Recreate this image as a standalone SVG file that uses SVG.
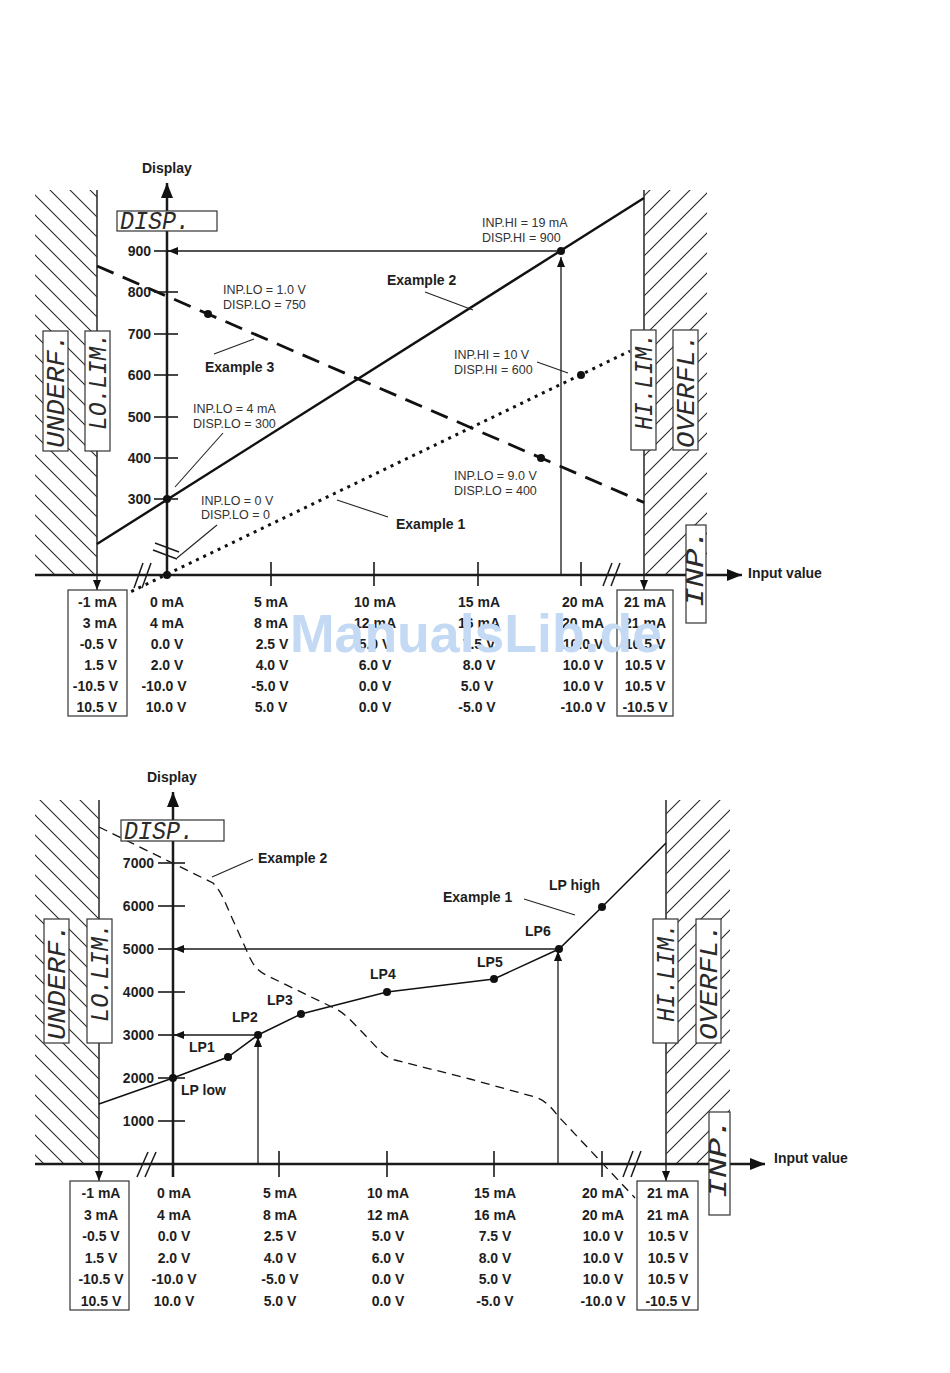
<svg xmlns="http://www.w3.org/2000/svg" width="950" height="1373" viewBox="0 0 950 1373">
<style>
.ax{stroke:#1a1a1a;stroke-width:2.5;fill:none}
.wall{stroke:#333;stroke-width:1.6;fill:none}
.thin{stroke:#1a1a1a;stroke-width:1.3;fill:none}
.lead{stroke:#222;stroke-width:1.1;fill:none}
.box{fill:#fff;stroke:#333;stroke-width:1.2}
.lb{font-family:"Liberation Sans",Arial,sans-serif;font-weight:bold;font-size:14px;fill:#1e1e1e}
.tb{font-family:"Liberation Sans",Arial,sans-serif;font-weight:bold;font-size:14px;fill:#1e1e1e;text-anchor:middle}
.yl{font-family:"Liberation Sans",Arial,sans-serif;font-weight:bold;font-size:14px;fill:#1e1e1e;text-anchor:end}
.an{font-family:"Liberation Sans",Arial,sans-serif;font-size:12.5px;fill:#333}
.seg{font-family:"Liberation Mono","DejaVu Sans Mono",monospace;font-style:italic;font-size:26px;fill:#2a2a2a}
.dot{fill:#111}
</style>
<defs>
<pattern id="hb" patternUnits="userSpaceOnUse" width="20" height="20"><path d="M-5,-5 L25,25 M-5,15 L5,25 M15,-5 L25,5" stroke="#2a2a2a" stroke-width="1.1"/></pattern>
<pattern id="hf" patternUnits="userSpaceOnUse" width="20" height="20"><path d="M-5,25 L25,-5 M-5,5 L5,-5 M15,25 L25,15" stroke="#2a2a2a" stroke-width="1.1"/></pattern>
<marker id="big" markerUnits="userSpaceOnUse" markerWidth="16" markerHeight="12" refX="15" refY="6" orient="auto"><path d="M0,0 L15,6 L0,12 z" fill="#111"/></marker>
<marker id="sm" markerUnits="userSpaceOnUse" markerWidth="11" markerHeight="8" refX="10" refY="4" orient="auto"><path d="M0,0 L10,4 L0,8 z" fill="#111"/></marker>
</defs>
<rect width="950" height="1373" fill="#fff"/>

<!-- ================= TOP CHART ================= -->
<g id="top-walls">
<rect x="35" y="190" width="62" height="385" fill="url(#hb)"/>
<rect x="644" y="190" width="63" height="385" fill="url(#hf)"/>
<line class="wall" x1="97" y1="190" x2="97" y2="575"/>
<line class="wall" x1="644" y1="190" x2="644" y2="575"/>
</g>

<g id="top-connectors">
<line x1="97" y1="544" x2="644" y2="198" stroke="#111" stroke-width="2.4"/>
<line x1="97" y1="266" x2="644" y2="502.5" stroke="#111" stroke-width="2.8" stroke-dasharray="18 10"/>
<line x1="124" y1="595" x2="630" y2="351" stroke="#111" stroke-width="3" stroke-dasharray="3 5"/>
<line class="thin" x1="561" y1="575" x2="561" y2="257" marker-end="url(#sm)"/>
<line class="thin" x1="561" y1="251" x2="168" y2="251" marker-end="url(#sm)"/>
<line class="lead" x1="425" y1="292" x2="473" y2="310"/>
<line class="lead" x1="214" y1="354" x2="254" y2="339"/>
<line class="lead" x1="537" y1="362" x2="568" y2="373"/>
<line class="lead" x1="223" y1="433" x2="175" y2="487"/>
<line class="lead" x1="217" y1="525" x2="177" y2="558"/>
<line class="lead" x1="337" y1="500" x2="388" y2="517"/>
<line class="thin" x1="97" y1="575" x2="97" y2="590" marker-end="url(#sm)"/>
<line class="thin" x1="644" y1="575" x2="644" y2="590" marker-end="url(#sm)"/>
</g>

<g id="top-axes">
<line class="ax" x1="35" y1="575" x2="742" y2="575" marker-end="url(#big)"/>
<line class="ax" x1="167" y1="575" x2="167" y2="183" marker-end="url(#big)"/>
<g stroke="#1a1a1a" stroke-width="1.6">
<line x1="154" y1="251" x2="178" y2="251"/>
<line x1="154" y1="292" x2="178" y2="292"/>
<line x1="154" y1="334" x2="178" y2="334"/>
<line x1="154" y1="375" x2="178" y2="375"/>
<line x1="154" y1="417" x2="178" y2="417"/>
<line x1="154" y1="458" x2="178" y2="458"/>
<line x1="154" y1="499" x2="178" y2="499"/>
<line x1="271" y1="562" x2="271" y2="586"/>
<line x1="374" y1="562" x2="374" y2="586"/>
<line x1="478" y1="562" x2="478" y2="586"/>
<line x1="581" y1="562" x2="581" y2="586"/>
</g>
<g stroke="#1a1a1a" stroke-width="1.5">
<line x1="134" y1="588" x2="143" y2="563"/>
<line x1="142" y1="588" x2="151" y2="563"/>
<line x1="603" y1="586" x2="612" y2="563"/>
<line x1="611" y1="586" x2="620" y2="563"/>
<line x1="155" y1="543" x2="179" y2="552"/>
<line x1="153" y1="550" x2="177" y2="559"/>
</g>
<text class="yl" x="151" y="256">900</text>
<text class="yl" x="151" y="297">800</text>
<text class="yl" x="151" y="339">700</text>
<text class="yl" x="151" y="380">600</text>
<text class="yl" x="151" y="422">500</text>
<text class="yl" x="151" y="463">400</text>
<text class="yl" x="151" y="504">300</text>
<text class="lb" x="142" y="173">Display</text>
<text class="lb" x="748" y="578">Input value</text>
</g>

<g id="top-dots">
<circle class="dot" cx="561" cy="251" r="4"/>
<circle class="dot" cx="208" cy="314" r="4"/>
<circle class="dot" cx="581" cy="375" r="4"/>
<circle class="dot" cx="541" cy="458" r="4"/>
<circle class="dot" cx="167" cy="499" r="4"/>
<circle class="dot" cx="167" cy="575" r="4"/>
</g>

<g id="top-disp"><rect class="box" x="117" y="211" width="100" height="20"/><text class="seg" x="120" y="229" font-size="24" textLength="70" lengthAdjust="spacingAndGlyphs">DISP.</text></g>
<g id="top-underf"><rect class="box" x="43" y="331" width="25" height="120"/><text class="seg" transform="translate(64,448) rotate(-90)" textLength="114" lengthAdjust="spacingAndGlyphs">UNDERF.</text></g>
<g id="top-lolim"><rect class="box" x="85" y="331" width="25" height="120"/><text class="seg" transform="translate(106,430) rotate(-90)" textLength="97" lengthAdjust="spacingAndGlyphs">LO.LIM.</text></g>
<g id="top-hilim"><rect class="box" x="631" y="330" width="25" height="120"/><text class="seg" transform="translate(652,430) rotate(-90)" textLength="97" lengthAdjust="spacingAndGlyphs">HI.LIM.</text></g>
<g id="top-overfl"><rect class="box" x="673" y="330" width="25" height="120"/><text class="seg" transform="translate(694,448) rotate(-90)" textLength="114" lengthAdjust="spacingAndGlyphs">OVERFL.</text></g>
<g id="top-inp"><rect class="box" x="686" y="525" width="20" height="98"/><text class="seg" font-size="22" transform="translate(703,607) rotate(-90)" textLength="78" lengthAdjust="spacingAndGlyphs">INP.</text></g>

<g id="top-labels">
<text class="an" x="482" y="227">INP.HI = 19 mA</text>
<text class="an" x="482" y="242">DISP.HI = 900</text>
<text class="lb" x="387" y="285">Example 2</text>
<text class="an" x="223" y="294">INP.LO = 1.0 V</text>
<text class="an" x="223" y="309">DISP.LO = 750</text>
<text class="lb" x="205" y="372">Example 3</text>
<text class="an" x="454" y="359">INP.HI = 10 V</text>
<text class="an" x="454" y="374">DISP.HI = 600</text>
<text class="an" x="193" y="413">INP.LO = 4 mA</text>
<text class="an" x="193" y="428">DISP.LO = 300</text>
<text class="an" x="454" y="480">INP.LO = 9.0 V</text>
<text class="an" x="454" y="495">DISP.LO = 400</text>
<text class="an" x="201" y="505">INP.LO = 0 V</text>
<text class="an" x="201" y="519">DISP.LO = 0</text>
<text class="lb" x="396" y="529">Example 1</text>
</g>

<g id="top-table">
<rect class="box" x="68" y="590" width="59" height="126" fill="none"/>
<rect class="box" x="617" y="590" width="56" height="126" fill="none"/>
<g class="yl">
<text x="117" y="607">-1 mA</text><text x="117" y="628">3 mA</text><text x="117" y="649">-0.5 V</text><text x="117" y="670">1.5 V</text><text x="118" y="691">-10.5 V</text><text x="117" y="712">10.5 V</text>
</g>
<g class="tb">
<text x="167" y="607">0 mA</text><text x="167" y="628">4 mA</text><text x="167" y="649">0.0 V</text><text x="167" y="670">2.0 V</text><text x="164" y="691">-10.0 V</text><text x="166" y="712">10.0 V</text>
<text x="271" y="607">5 mA</text><text x="271" y="628">8 mA</text><text x="272" y="649">2.5 V</text><text x="272" y="670">4.0 V</text><text x="270" y="691">-5.0 V</text><text x="271" y="712">5.0 V</text>
<text x="375" y="607">10 mA</text><text x="375" y="628">12 mA</text><text x="375" y="649">5.0 V</text><text x="375" y="670">6.0 V</text><text x="375" y="691">0.0 V</text><text x="375" y="712">0.0 V</text>
<text x="479" y="607">15 mA</text><text x="479" y="628">16 mA</text><text x="479" y="649">7.5 V</text><text x="479" y="670">8.0 V</text><text x="477" y="691">5.0 V</text><text x="477" y="712">-5.0 V</text>
<text x="583" y="607">20 mA</text><text x="583" y="628">20 mA</text><text x="583" y="649">10.0 V</text><text x="583" y="670">10.0 V</text><text x="583" y="691">10.0 V</text><text x="583" y="712">-10.0 V</text>
<text x="645" y="607">21 mA</text><text x="645" y="628">21 mA</text><text x="645" y="649">10.5 V</text><text x="645" y="670">10.5 V</text><text x="645" y="691">10.5 V</text><text x="645" y="712">-10.5 V</text>
</g>
</g>

<!-- ================= BOTTOM CHART ================= -->
<g id="bot-walls">
<rect x="35" y="800" width="64" height="364" fill="url(#hb)"/>
<rect x="666" y="800" width="64" height="364" fill="url(#hf)"/>
<line class="wall" x1="99" y1="800" x2="99" y2="1164"/>
<line class="wall" x1="666" y1="800" x2="666" y2="1164"/>
</g>

<g id="bot-connectors">
<polyline points="99,1104 173,1078 228,1057 258,1035 301,1014 387,992 494,979 559,949 602,907 666,843" fill="none" stroke="#111" stroke-width="1.5"/>
<path d="M99,827 L213,883 C222,892 226,905 232,918 L250,958 C254,966 258,971 266,975 L338,1010 C348,1016 356,1026 364,1034 L380,1051 C384,1055 388,1058 395,1060 L470,1079 L535,1097 C545,1100 552,1108 558,1116 L635,1198" fill="none" stroke="#111" stroke-width="1.3" stroke-dasharray="9 6"/>
<line class="thin" x1="258" y1="1164" x2="258" y2="1037" marker-end="url(#sm)"/>
<line class="thin" x1="258" y1="1035" x2="174" y2="1035" marker-end="url(#sm)"/>
<line class="thin" x1="558" y1="1164" x2="558" y2="951" marker-end="url(#sm)"/>
<line class="thin" x1="558" y1="949" x2="174" y2="949" marker-end="url(#sm)"/>
<line class="lead" x1="524" y1="899" x2="575" y2="915"/>
<line class="lead" x1="212" y1="877" x2="253" y2="859"/>
<line class="thin" x1="99" y1="1164" x2="99" y2="1181" marker-end="url(#sm)"/>
<line class="thin" x1="666" y1="1164" x2="666" y2="1181" marker-end="url(#sm)"/>
</g>

<g id="bot-axes">
<line class="ax" x1="35" y1="1164" x2="765" y2="1164" marker-end="url(#big)"/>
<line class="ax" x1="173" y1="1177" x2="173" y2="792" marker-end="url(#big)"/>
<g stroke="#1a1a1a" stroke-width="1.6">
<line x1="158" y1="863" x2="185" y2="863"/>
<line x1="158" y1="906" x2="185" y2="906"/>
<line x1="158" y1="949" x2="185" y2="949"/>
<line x1="158" y1="992" x2="185" y2="992"/>
<line x1="158" y1="1035" x2="185" y2="1035"/>
<line x1="158" y1="1078" x2="185" y2="1078"/>
<line x1="158" y1="1121" x2="185" y2="1121"/>
<line x1="279" y1="1151" x2="279" y2="1177"/>
<line x1="387" y1="1151" x2="387" y2="1177"/>
<line x1="494" y1="1151" x2="494" y2="1177"/>
<line x1="602" y1="1151" x2="602" y2="1177"/>
</g>
<g stroke="#1a1a1a" stroke-width="1.5">
<line x1="137" y1="1177" x2="148" y2="1152"/>
<line x1="145" y1="1177" x2="156" y2="1152"/>
<line x1="623" y1="1177" x2="633" y2="1151"/>
<line x1="631" y1="1177" x2="641" y2="1151"/>
</g>
<text class="yl" x="154" y="868">7000</text>
<text class="yl" x="154" y="911">6000</text>
<text class="yl" x="154" y="954">5000</text>
<text class="yl" x="154" y="997">4000</text>
<text class="yl" x="154" y="1040">3000</text>
<text class="yl" x="154" y="1083">2000</text>
<text class="yl" x="154" y="1126">1000</text>
<text class="lb" x="147" y="782">Display</text>
<text class="lb" x="774" y="1163">Input value</text>
</g>

<g id="bot-dots">
<circle class="dot" cx="173" cy="1078" r="4"/>
<circle class="dot" cx="228" cy="1057" r="4"/>
<circle class="dot" cx="258" cy="1035" r="4"/>
<circle class="dot" cx="301" cy="1014" r="4"/>
<circle class="dot" cx="387" cy="992" r="4"/>
<circle class="dot" cx="494" cy="979" r="4"/>
<circle class="dot" cx="559" cy="949" r="4"/>
<circle class="dot" cx="602" cy="907" r="4"/>
</g>

<g id="bot-disp"><rect class="box" x="121" y="820" width="103" height="21"/><text class="seg" x="124" y="839" font-size="24" textLength="70" lengthAdjust="spacingAndGlyphs">DISP.</text></g>
<g id="bot-underf"><rect class="box" x="44" y="919" width="25" height="124"/><text class="seg" transform="translate(65,1040) rotate(-90)" textLength="116" lengthAdjust="spacingAndGlyphs">UNDERF.</text></g>
<g id="bot-lolim"><rect class="box" x="87" y="919" width="25" height="124"/><text class="seg" transform="translate(108,1022) rotate(-90)" textLength="99" lengthAdjust="spacingAndGlyphs">LO.LIM.</text></g>
<g id="bot-hilim"><rect class="box" x="653" y="919" width="25" height="124"/><text class="seg" transform="translate(674,1022) rotate(-90)" textLength="99" lengthAdjust="spacingAndGlyphs">HI.LIM.</text></g>
<g id="bot-overfl"><rect class="box" x="696" y="919" width="25" height="124"/><text class="seg" transform="translate(717,1040) rotate(-90)" textLength="116" lengthAdjust="spacingAndGlyphs">OVERFL.</text></g>
<g id="bot-inp"><rect class="box" x="709" y="1112" width="21" height="103"/><text class="seg" font-size="22" transform="translate(726,1198) rotate(-90)" textLength="80" lengthAdjust="spacingAndGlyphs">INP.</text></g>

<g id="bot-labels">
<text class="lb" x="258" y="863">Example 2</text>
<text class="lb" x="443" y="902">Example 1</text>
<text class="lb" x="549" y="890">LP high</text>
<text class="lb" x="525" y="936">LP6</text>
<text class="lb" x="477" y="967">LP5</text>
<text class="lb" x="370" y="979">LP4</text>
<text class="lb" x="267" y="1005">LP3</text>
<text class="lb" x="232" y="1022">LP2</text>
<text class="lb" x="189" y="1052">LP1</text>
<text class="lb" x="181" y="1095">LP low</text>
</g>

<g id="bot-table">
<rect class="box" x="70" y="1181" width="59" height="129" fill="none"/>
<rect class="box" x="637" y="1181" width="61" height="129" fill="none"/>
<g class="tb">
<text x="101" y="1198">-1 mA</text><text x="101" y="1220">3 mA</text><text x="101" y="1241">-0.5 V</text><text x="101" y="1263">1.5 V</text><text x="101" y="1284">-10.5 V</text><text x="101" y="1306">10.5 V</text>
<text x="174" y="1198">0 mA</text><text x="174" y="1220">4 mA</text><text x="174" y="1241">0.0 V</text><text x="174" y="1263">2.0 V</text><text x="174" y="1284">-10.0 V</text><text x="174" y="1306">10.0 V</text>
<text x="280" y="1198">5 mA</text><text x="280" y="1220">8 mA</text><text x="280" y="1241">2.5 V</text><text x="280" y="1263">4.0 V</text><text x="280" y="1284">-5.0 V</text><text x="280" y="1306">5.0 V</text>
<text x="388" y="1198">10 mA</text><text x="388" y="1220">12 mA</text><text x="388" y="1241">5.0 V</text><text x="388" y="1263">6.0 V</text><text x="388" y="1284">0.0 V</text><text x="388" y="1306">0.0 V</text>
<text x="495" y="1198">15 mA</text><text x="495" y="1220">16 mA</text><text x="495" y="1241">7.5 V</text><text x="495" y="1263">8.0 V</text><text x="495" y="1284">5.0 V</text><text x="495" y="1306">-5.0 V</text>
<text x="603" y="1198">20 mA</text><text x="603" y="1220">20 mA</text><text x="603" y="1241">10.0 V</text><text x="603" y="1263">10.0 V</text><text x="603" y="1284">10.0 V</text><text x="603" y="1306">-10.0 V</text>
<text x="668" y="1198">21 mA</text><text x="668" y="1220">21 mA</text><text x="668" y="1241">10.5 V</text><text x="668" y="1263">10.5 V</text><text x="668" y="1284">10.5 V</text><text x="668" y="1306">-10.5 V</text>
</g>
</g>

<g id="watermark">
<text x="290" y="652" font-family="'Liberation Sans',Arial,sans-serif" font-weight="bold" font-size="54" fill="#c4d9f4" textLength="372" lengthAdjust="spacingAndGlyphs">ManualsLib.de</text>
</g>
</svg>
